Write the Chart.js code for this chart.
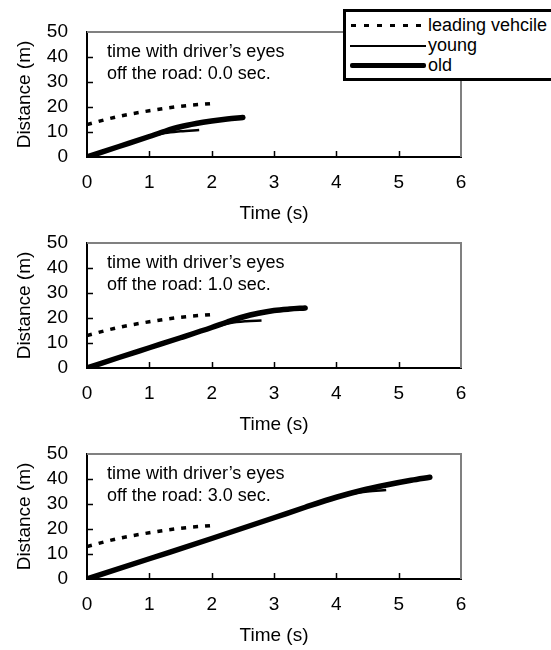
<!DOCTYPE html>
<html>
<head>
<meta charset="utf-8">
<script src="https://cdn.jsdelivr.net/npm/chart.js@4"></script>
<style>
  body { margin: 0; background: #fff; width: 551px; height: 650px; overflow: hidden; position: relative; font-family: "Liberation Sans", Arial, sans-serif; }
  .panel { position: absolute; left: 0; width: 551px; height: 230px; }
  #legend { position: absolute; left: 343px; top: 9px; width: 260px; height: 66px; border: 3px solid #000; background: #fff; z-index: 5; }
  .row { position: absolute; left: 0; height: 20px; font-size: 18px; line-height: 20px; }
  .row .smp { position: absolute; left: 4px; width: 76px; }
  .row span { position: absolute; left: 82px; white-space: nowrap; }
</style>
</head>
<body>
<div class="panel" style="top:0"><canvas id="c0" width="551" height="230"></canvas></div>
<div class="panel" style="top:211px"><canvas id="c1" width="551" height="230"></canvas></div>
<div class="panel" style="top:422px"><canvas id="c2" width="551" height="230"></canvas></div>
<div id="legend">
  <div class="row" style="top:3px"><div class="smp" style="top:9px;height:3px;background:repeating-linear-gradient(90deg,#000 0 5px,transparent 5px 13px);background-position:1px 0"></div><span>leading vehcile</span></div>
  <div class="row" style="top:23px"><div class="smp" style="top:10px;height:2px;background:#000"></div><span>young</span></div>
  <div class="row" style="top:43px"><div class="smp" style="top:8px;height:5px;background:#000;border-radius:2px"></div><span>old</span></div>
</div>
<script>
// leading vehicle (same in every panel)
const leadT = [0, 0.5, 1, 1.5, 2];
const leadD = [13, 16.2, 18.5, 20.3, 21.4];

// eyes off the road: 0.0 sec
const young0T = [0, 0.5, 1, 1.25, 1.5, 1.8];
const young0D = [0, 4.1, 8.1, 9.6, 10.3, 10.8];
const old0T = [0, 0.5, 1, 1.25, 1.5, 1.75, 2, 2.25, 2.5];
const old0D = [0, 4.1, 8.2, 10.3, 12.1, 13.4, 14.4, 15.2, 15.8];

// 1.0 sec
const young1T = [0, 0.5, 1, 1.5, 2, 2.3, 2.55, 2.8];
const young1D = [0, 4.1, 8.1, 12.1, 16.1, 18.0, 18.7, 19.0];
const old1T = [0, 0.5, 1, 1.5, 2, 2.25, 2.5, 2.75, 3, 3.25, 3.5];
const old1D = [0, 4.1, 8.1, 12.1, 16.2, 18.4, 20.4, 21.9, 23.0, 23.6, 24.0];

// 3.0 sec
const young3T = [0, 1, 2, 3, 3.5, 4, 4.25, 4.5, 4.8];
const young3D = [0, 8.1, 16.2, 24.5, 28.6, 32.6, 34.1, 35.0, 35.6];
const old3T = [0, 1, 2, 3, 3.5, 4, 4.4, 4.8, 5.2, 5.5];
const old3D = [0, 8.1, 16.2, 24.5, 28.7, 32.7, 35.4, 37.6, 39.5, 40.7];

const eyesOff = ['0.0', '1.0', '3.0'];
const panels = [
  [young0T, young0D, old0T, old0D],
  [young1T, young1D, old1T, old1D],
  [young3T, young3D, old3T, old3D]
];

const FONT = '"Liberation Sans", Arial, sans-serif';

function zip(t, d) {
  return t.map((v, i) => ({ x: v, y: d[i] }));
}

// gray top/right frame + inward tick marks + note text
const decorate = {
  id: 'decorate',
  afterDraw(chart, args, opts) {
    const { ctx, chartArea: a, scales: { x, y } } = chart;
    ctx.save();
    ctx.strokeStyle = '#808080';
    ctx.lineWidth = 2;
    ctx.beginPath();
    ctx.moveTo(a.left, a.top);
    ctx.lineTo(a.right, a.top);
    ctx.lineTo(a.right, a.bottom);
    ctx.stroke();

    ctx.strokeStyle = '#000';
    ctx.lineWidth = 1.5;
    ctx.beginPath();
    x.ticks.forEach(t => {
      if (t.value <= x.min || t.value >= x.max) return;
      const px = Math.round(x.getPixelForValue(t.value)) + 0.5;
      ctx.moveTo(px, a.bottom);
      ctx.lineTo(px, a.bottom - 6);
    });
    y.ticks.forEach(t => {
      if (t.value <= y.min || t.value >= y.max) return;
      const py = Math.round(y.getPixelForValue(t.value)) + 0.5;
      ctx.moveTo(a.left, py);
      ctx.lineTo(a.left + 6, py);
    });
    ctx.stroke();

    ctx.fillStyle = '#000';
    ctx.font = '18px ' + FONT;
    ctx.textBaseline = 'alphabetic';
    ctx.fillText('time with driver\u2019s eyes', a.left + 20, a.top + 25);
    ctx.fillText('off the road: ' + opts.sec + ' sec.', a.left + 20, a.top + 47);
    ctx.restore();
  }
};

panels.forEach((p, i) => {
  new Chart(document.getElementById('c' + i), {
    type: 'line',
    data: {
      datasets: [
        { label: 'leading vehcile', data: zip(leadT, leadD), borderColor: '#000', borderWidth: 3.5, borderDash: [5, 7], cubicInterpolationMode: 'monotone' },
        { label: 'young', data: zip(p[0], p[1]), borderColor: '#000', borderWidth: 2.5, cubicInterpolationMode: 'monotone' },
        { label: 'old', data: zip(p[2], p[3]), borderColor: '#000', borderWidth: 5.5, borderCapStyle: 'round', cubicInterpolationMode: 'monotone' }
      ]
    },
    options: {
      responsive: false,
      animation: false,
      events: [],
      elements: { point: { radius: 0 } },
      layout: { padding: { top: 32, right: 90, left: 0, bottom: 0 } },
      plugins: { legend: { display: false }, tooltip: { enabled: false }, decorate: { sec: eyesOff[i] } },
      scales: {
        x: {
          type: 'linear', min: 0, max: 6,
          grid: { display: true, drawOnChartArea: false, drawTicks: false },
          border: { display: true, color: '#000', width: 2 },
          ticks: { stepSize: 1, color: '#000', padding: 14, maxRotation: 0, autoSkip: false, font: { family: FONT, size: 19 } },
          title: { display: true, text: 'Time (s)', color: '#000', padding: { top: 0, bottom: 5 }, font: { family: FONT, size: 19 } },
          afterFit(s) { s.height = 73; }
        },
        y: {
          min: 0, max: 50,
          grid: { display: true, drawOnChartArea: false, drawTicks: false },
          border: { display: true, color: '#000', width: 2 },
          ticks: { stepSize: 10, color: '#000', padding: 19, autoSkip: false, font: { family: FONT, size: 19 } },
          title: { display: true, text: 'Distance (m)', color: '#000', padding: { top: 13, bottom: 0 }, font: { family: FONT, size: 19 } },
          afterFit(s) { s.width = 87; }
        }
      }
    },
    plugins: [decorate]
  });
});
</script>
</body>
</html>
